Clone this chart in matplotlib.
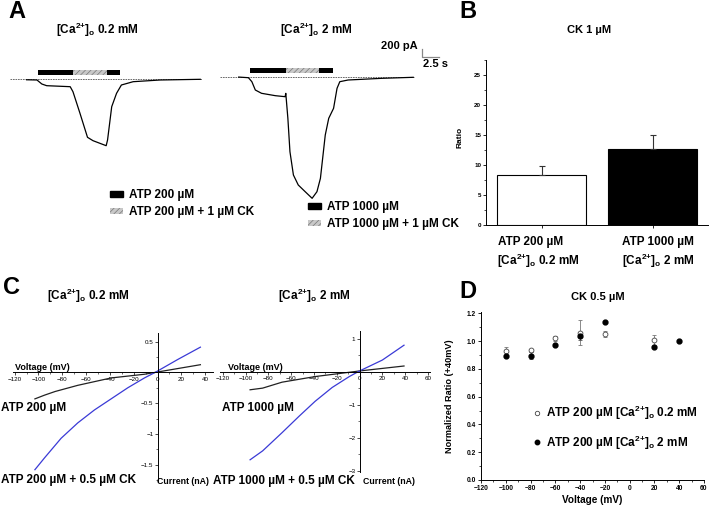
import matplotlib
matplotlib.use('Agg')
import matplotlib.pyplot as plt
from matplotlib.patches import Patch
from matplotlib.lines import Line2D
from matplotlib.ticker import MultipleLocator, FixedLocator, FixedFormatter

W, H = 709, 508
plt.rcParams['font.family'] = ['Liberation Sans', 'DejaVu Sans']
plt.rcParams['mathtext.fontset'] = 'custom'
plt.rcParams['mathtext.rm'] = 'Liberation Sans'
plt.rcParams['mathtext.bf'] = 'Liberation Sans:bold'
plt.rcParams['hatch.linewidth'] = 0.5

# ---------------- data ----------------
# Panel A: current traces (time s, current pA)
t_low = [2.4, 3.9, 4.6, 5.3, 8.7, 9.1, 10.1, 11.2, 12.0, 13.9, 14.1, 14.7, 15.4, 16.1, 17.8, 21.7, 27.5]
i_low = [-20, -26, -130, -174, -200, -330, -884, -1516, -1604, -1734, -1586, -720, -372, -156, -70, -26, -8]
t_high = [2.7, 4.1, 4.6, 5.1, 6.0, 8.0, 9.4, 9.5, 9.8, 10.1, 10.6, 11.3, 12.3, 13.3, 14.0, 14.5, 15.2,
          15.7, 16.4, 16.9, 17.3, 18.5, 23.4, 27.9]
i_high = [-10, -26, -130, -346, -432, -494, -520, -433, -1082, -1950, -2556, -2816, -2990, -3162, -2990,
          -2643, -1516, -1082, -822, -302, -130, -86, -42, -16]
atp_low = (4.0, 15.9)
ck_low = (9.06, 14.06)
atp_high = (4.34, 16.37)
ck_high = (9.49, 14.3)
baseline_low = (0.0, 27.75)
baseline_high = (0.0, 28.0)
scale_pA = 200
scale_s = 2.5

# Panel B
b_labels1 = ['ATP 200 µM', 'ATP 1000 µM']
b_ratio = [8.4, 12.7]
b_err = [1.4, 2.3]

# Panel C: I-V curves (mV, nA)
v_c1_black = [-103, -95, -86, -67, -39, -11, -2, 36]
i_c1_black = [-0.43, -0.37, -0.31, -0.21, -0.09, -0.03, 0.0, 0.125]
v_c1_blue = [-103, -95, -81, -67, -53, -39, -25, -11, -2, 17, 36]
i_c1_blue = [-1.58, -1.39, -1.07, -0.82, -0.61, -0.43, -0.25, -0.09, 0.0, 0.21, 0.41]
v_c2_black = [-96, -85, -68, -39, -9, 0, 39]
i_c2_black = [-0.55, -0.50, -0.32, -0.15, -0.02, 0.02, 0.17]
v_c2_blue = [-96, -85, -68, -53, -39, -24, -9, 0, 20, 39]
i_c2_blue = [-2.67, -2.4, -1.85, -1.35, -0.9, -0.48, -0.15, 0.02, 0.35, 0.8]

# Panel D
d_v_open = [-100, -80, -60, -40, -20, 20]
d_r_open = [0.93, 0.935, 1.02, 1.06, 1.05, 1.01]
d_e_open = [0.03, 0.01, 0.02, 0.09, 0.02, 0.035]
d_v_fill = [-100, -80, -60, -40, -20, 20, 40]
d_r_fill = [0.895, 0.895, 0.97, 1.035, 1.14, 0.96, 1.0]
d_e_fill = [0.0, 0.025, 0.0, 0.03, 0.0, 0.0, 0.0]


def ca(conc):
    return r'[Ca$^{\mathbf{2{+}}}$]$_{\mathbf{o}}$ ' + conc + ' mM'


def rect(l, t, r, b):
    return [l / W, 1 - b / H, (r - l) / W, (b - t) / H]


def fx(x):
    return x / W


def fy(y):
    return 1 - y / H


fig = plt.figure(figsize=(W / 100, H / 100), dpi=100)
BF = dict(fontweight='bold')

# ---------------- Panel A ----------------
def trace_panel(box, xlim, ylim, t, i, atp, ck, base):
    ax = fig.add_axes(rect(*box))
    ax.set_xlim(*xlim)
    ax.set_ylim(*ylim)
    ax.axis('off')
    ax.plot(base, [0, 0], color='#555555', lw=0.6, ls=(0, (2, 1)))
    ax.plot(t, i, color='black', lw=0.9)
    ax.broken_barh([(atp[0], atp[1] - atp[0])], (100, 125), facecolors='black')
    ax.broken_barh([(ck[0], ck[1] - ck[0])], (100, 125), facecolors='#c8c8c8',
                   edgecolors='#777777', hatch='//////', linewidth=0)
    return ax

axA1 = trace_panel((10, 60, 202, 152), (0, 27.75), (-1898, 494), t_low, i_low, atp_low, ck_low, baseline_low)
axA2 = trace_panel((220, 40, 452, 205), (0, 33.5), (-3336, 954), t_high, i_high, atp_high, ck_high, baseline_high)

# scale bar
sx0, sy0 = 29.15, 520
axA2.plot([sx0, sx0, sx0 + scale_s], [sy0 + scale_pA, sy0, sy0], color='#888888', lw=0.9, clip_on=False,
          zorder=5)
fig.text(fx(418), fy(46), '200 pA', ha='right', va='center', fontsize=8, **BF)
fig.text(fx(423), fy(64), '2.5 s', ha='left', va='center', fontsize=8, **BF)

fig.text(fx(97), fy(30), ca('0.2'), ha='center', va='center', fontsize=8.5, **BF)
fig.text(fx(316), fy(30), ca('2'), ha='center', va='center', fontsize=8.5, **BF)

def a_legend(x0, y0, labels):
    h = [Patch(fc='black', ec='black'),
         Patch(fc='#c8c8c8', ec='#777777', hatch='//////', lw=0)]
    fig.legend(h, labels, loc='upper left', bbox_to_anchor=(fx(x0), fy(y0)), frameon=False,
               prop=dict(weight='bold', size=8.5), handlelength=1.1, handleheight=0.4,
               handletextpad=0.5, labelspacing=0.45, borderpad=0, borderaxespad=0)

a_legend(110, 189, ['ATP 200 µM', 'ATP 200 µM + 1 µM CK'])
a_legend(308, 201, ['ATP 1000 µM', 'ATP 1000 µM + 1 µM CK'])

# ---------------- Panel B ----------------
axB = fig.add_axes(rect(486, 60, 708, 225))
xb = [0, 1]
axB.bar(xb, b_ratio, width=0.8, color=['white', 'black'], edgecolor='black', linewidth=0.8,
        yerr=[[0, 0], b_err], error_kw=dict(ecolor='#333333', elinewidth=0.8, capsize=2.5, capthick=0.8))
axB.set_xlim(-0.5, 1.5)
axB.set_ylim(0, 27.5)
axB.yaxis.set_major_locator(MultipleLocator(5))
axB.yaxis.set_minor_locator(MultipleLocator(2.5))
axB.set_xticks(xb)
axB.set_xticklabels(['', ''])
for s in ['top', 'right']:
    axB.spines[s].set_visible(False)
for s in ['left', 'bottom']:
    axB.spines[s].set_linewidth(0.7)
axB.tick_params(axis='both', which='major', length=2.5, width=0.6, labelsize=4.5, pad=1)
axB.tick_params(axis='both', which='minor', length=1.5, width=0.5)
for lb in axB.get_yticklabels():
    lb.set_fontweight('bold')
fig.text(fx(498), fy(242), b_labels1[0], ha='left', va='center', fontsize=8.5, **BF)
fig.text(fx(622), fy(242), b_labels1[1], ha='left', va='center', fontsize=8.5, **BF)
fig.text(fx(497), fy(261), ca('0.2'), ha='left', va='center', fontsize=8.5, **BF)
fig.text(fx(622), fy(261), ca('2'), ha='left', va='center', fontsize=8.5, **BF)
fig.text(fx(589), fy(30), 'CK 1 µM', ha='center', va='center', fontsize=8, **BF)
fig.text(fx(460), fy(137), 'Ratio', ha='center', va='center', rotation=90, fontsize=6, **BF)

# ---------------- Panel C ----------------
def iv_panel(box, xlim, ylim, vb, ib, vc, ic, xt, yt, yminor):
    ax = fig.add_axes(rect(*box))
    ax.set_xlim(*xlim)
    ax.set_ylim(*ylim)
    for s in ['top', 'right']:
        ax.spines[s].set_visible(False)
    for s in ['left', 'bottom']:
        ax.spines[s].set_position(('data', 0))
        ax.spines[s].set_linewidth(0.7)
    ax.plot(vb, ib, color='#222222', lw=0.9)
    ax.plot(vc, ic, color='#3a3ad6', lw=0.9)
    ax.xaxis.set_major_locator(FixedLocator(xt))
    ax.xaxis.set_major_formatter(FixedFormatter([f'{v:d}'.replace('-', '\u2212') for v in xt]))
    ax.xaxis.set_minor_locator(MultipleLocator(10))
    ax.yaxis.set_major_locator(FixedLocator(yt))
    ax.yaxis.set_major_formatter(FixedFormatter([f'{v:g}'.replace('-', '\u2212') for v in yt]))
    ax.yaxis.set_minor_locator(MultipleLocator(yminor))
    ax.tick_params(axis='both', which='major', length=2, width=0.5, labelsize=4.5, pad=1)
    ax.tick_params(axis='both', which='minor', length=1.2, width=0.4)
    return ax

iv_panel((13, 333, 213, 482), (-121.4, 46.6), (-1.78, 0.64), v_c1_black, i_c1_black, v_c1_blue, i_c1_blue,
         list(range(-120, 41, 20)), [-1.5, -1, -0.5, 0.5], 0.25)
iv_panel((220, 331, 430, 472), (-122.4, 61.8), (-3.04, 1.23), v_c2_black, i_c2_black, v_c2_blue, i_c2_blue,
         list(range(-120, 61, 20)), [-3, -2, -1, 1], 0.5)

fig.text(fx(88), fy(296), ca('0.2'), ha='center', va='center', fontsize=8.5, **BF)
fig.text(fx(314), fy(296), ca('2'), ha='center', va='center', fontsize=8.5, **BF)
fig.text(fx(15), fy(367), 'Voltage (mV)', ha='left', va='center', fontsize=6.5, **BF)
fig.text(fx(228), fy(368), 'Voltage (mV)', ha='left', va='center', fontsize=6.5, **BF)
fig.text(fx(1), fy(408), 'ATP 200 µM', ha='left', va='center', fontsize=8.5, **BF)
fig.text(fx(222), fy(408), 'ATP 1000 µM', ha='left', va='center', fontsize=8.5, **BF)
fig.text(fx(1), fy(480), 'ATP 200 µM + 0.5 µM CK', ha='left', va='center', fontsize=8.5, **BF)
fig.text(fx(213), fy(481), 'ATP 1000 µM + 0.5 µM CK', ha='left', va='center', fontsize=8.5, **BF)
fig.text(fx(157), fy(482), 'Current (nA)', ha='left', va='center', fontsize=6.3, **BF)
fig.text(fx(363), fy(481), 'Current (nA)', ha='left', va='center', fontsize=6.3, **BF)

# ---------------- Panel D ----------------
axD = fig.add_axes(rect(481, 312, 704, 480))
axD.errorbar(d_v_open, d_r_open, yerr=d_e_open, fmt='o', mfc='white', mec='#444444', mew=0.6, ms=3.5,
             ecolor='#777777', elinewidth=0.6, capsize=1.5, capthick=0.6)
axD.errorbar(d_v_fill, d_r_fill, yerr=d_e_fill, fmt='o', mfc='black', mec='black', ms=3.5,
             ecolor='#555555', elinewidth=0.6, capsize=1.5, capthick=0.6)
axD.set_xlim(-120, 60)
axD.set_ylim(0, 1.21)
axD.xaxis.set_major_locator(MultipleLocator(20))
axD.xaxis.set_minor_locator(MultipleLocator(10))
axD.yaxis.set_major_locator(MultipleLocator(0.2))
axD.yaxis.set_minor_locator(MultipleLocator(0.1))
axD.yaxis.set_major_formatter(matplotlib.ticker.FormatStrFormatter('%.1f'))
for s in ['top', 'right']:
    axD.spines[s].set_visible(False)
for s in ['left', 'bottom']:
    axD.spines[s].set_linewidth(0.7)
axD.tick_params(axis='both', which='major', length=2.5, width=0.6, labelsize=4.8, pad=1)
axD.tick_params(axis='both', which='minor', length=1.5, width=0.5)
for lb in axD.get_xticklabels() + axD.get_yticklabels():
    lb.set_fontweight('bold')
hd = [Line2D([], [], marker='o', ls='none', mfc='white', mec='#444444', mew=0.6, ms=3.2),
      Line2D([], [], marker='o', ls='none', mfc='black', mec='black', ms=3.2)]
fig.legend(hd, ['ATP 200 µM ' + ca('0.2'), 'ATP 200 µM ' + ca('2')], loc='upper left',
           bbox_to_anchor=(fx(532), fy(404)), frameon=False, prop=dict(weight='bold', size=8.5),
           handlelength=0.8, handletextpad=0.4, labelspacing=0.95, borderpad=0, borderaxespad=0,
           numpoints=1)
fig.text(fx(598), fy(297), 'CK 0.5 µM', ha='center', va='center', fontsize=8, **BF)
fig.text(fx(592), fy(500), 'Voltage (mV)', ha='center', va='center', fontsize=7.2, **BF)
fig.text(fx(450), fy(396), 'Normalized Ratio (+40mV)', ha='center', va='center', rotation=90,
         fontsize=6.6, **BF)

# panel letters
for lt, (x, y) in zip('ABCD', [(17, 12), (468, 12), (11, 288), (468, 291)]):
    fig.text(fx(x), fy(y), lt, ha='center', va='center', fontsize=17, **BF)

fig.savefig('out.png', dpi=100)
